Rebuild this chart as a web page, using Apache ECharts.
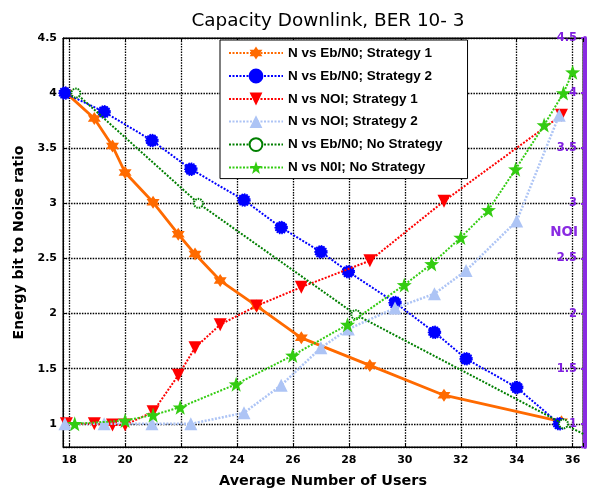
<!DOCTYPE html>
<html>
<head>
<meta charset="utf-8">
<script src="https://cdn.jsdelivr.net/npm/echarts@6/dist/echarts.min.js"></script>
<style>html,body{margin:0;padding:0;background:#fff}#c{width:590px;height:492px}</style>
</head>
<body>
<div id="c"></div>
<script>
// ---- data ----
const ebS1_x = [17.9, 18.9, 19.55, 20.0, 21.0, 21.9, 22.5, 23.4, 24.7, 26.3, 28.75, 31.4, 35.6];
const ebS1_y = [4.0, 3.77, 3.52, 3.28, 3.01, 2.72, 2.54, 2.30, 2.07, 1.78, 1.53, 1.26, 1.02];
const noiS1_y = [1.0, 1.0, 0.99, 0.99, 1.11, 1.44, 1.69, 1.90, 2.07, 2.24, 2.48, 3.02, 3.80];

const ebS2_x = [17.85, 19.25, 20.96, 22.35, 24.25, 25.58, 27.0, 27.98, 29.65, 31.06, 32.19, 34.0, 35.52];
const ebS2_y = [4.0, 3.83, 3.57, 3.31, 3.03, 2.78, 2.56, 2.38, 2.10, 1.83, 1.59, 1.33, 1.0];
const noiS2_y = [1.0, 1.0, 1.0, 1.0, 1.10, 1.35, 1.69, 1.86, 2.05, 2.18, 2.39, 2.84, 3.80];

const ebNo_x = [18.24, 22.62, 28.25, 35.67, 36.6];
const ebNo_y = [4.0, 3.0, 1.99, 1.0, 0.88];

const noiNo_x = [18.2, 20.0, 21.0, 21.97, 23.97, 25.99, 27.95, 29.98, 30.96, 32.0, 32.99, 33.96, 34.98, 35.67, 36.0];
const noiNo_y = [1.0, 1.03, 1.08, 1.15, 1.36, 1.62, 1.90, 2.26, 2.45, 2.69, 2.94, 3.31, 3.71, 4.0, 4.19];

const seriesNames = ['N vs Eb/N0; Strategy 1', 'N vs Eb/N0; Strategy 2', 'N vs NOI; Strategy 1',
                     'N vs NOI; Strategy 2', 'N vs Eb/N0; No Strategy', 'N vs N0I; No Strategy'];
const xTickLabels = ['18', '20', '22', '24', '26', '28', '30', '32', '34', '36'];
const yTickLabels = ['1', '1.5', '2', '2.5', '3', '3.5', '4', '4.5'];

function pairs(xs, ys) { return xs.map((x, i) => [x, ys[i]]); }

const HEX = 'path://M10 0 L12.89 5 L18.66 5 L15.77 10 L18.66 15 L12.89 15 L10 20 L7.11 15 L1.34 15 L4.23 10 L1.34 5 L7.11 5 Z';
const STAR = 'path://M10 0 L12.35 6.76 L19.51 6.91 L13.8 11.24 L15.88 18.09 L10 14 L4.12 18.09 L6.2 11.24 L0.49 6.91 L7.65 6.76 Z';
const FONT = 'DejaVu Sans';
const AFONT = 'Liberation Sans';
const PURPLE = '#8A2BE2';

function xFmt(v) {
  const s = String(Math.round(v));
  return (Math.abs(v - Math.round(v)) < 1e-6 && xTickLabels.indexOf(s) >= 0) ? s : '';
}
function yFmt(v) {
  const s = String(Math.round(v * 2) / 2);
  return (Math.abs(v * 2 - Math.round(v * 2)) < 1e-6 && yTickLabels.indexOf(s) >= 0) ? s : '';
}

const chart = echarts.init(document.getElementById('c'), null, {renderer: 'canvas'});
const dotted = [2, 1.5];
const ebNoData = pairs(ebNo_x, ebNo_y).map((p, i) => i === ebNo_x.length - 1 ? {value: p, symbol: 'none'} : p);

chart.setOption({
  animation: false,
  backgroundColor: '#fff',
  title: {
    text: 'Capacity Downlink, BER 10- 3',
    left: 323, top: 7, textAlign: 'center',
    textStyle: {fontFamily: FONT, fontSize: 18.4, fontWeight: 'normal', color: '#000'}
  },
  graphic: [{
    type: 'text', right: 12, top: 225, z: 100,
    style: {text: 'NOI', fill: PURPLE, font: 'bold 13.5px "DejaVu Sans"'}
  }],
  grid: {left: 63, top: 38, width: 520, height: 409, show: true, borderColor: '#000', borderWidth: 1,
         backgroundColor: 'transparent', containLabel: false, outerBoundsMode: 'none'},
  legend: {
    orient: 'vertical', left: 220, top: 40,
    padding: [6, 25, 4, 8],
    itemWidth: 54, itemHeight: 16, itemGap: 8.6,
    backgroundColor: '#fff', borderColor: '#000', borderWidth: 1,
    textStyle: {fontFamily: AFONT, fontSize: 13.5, fontWeight: 'bold', color: '#000'},
    data: seriesNames.map((n, i) => i === 0 ? {name: n, lineStyle: {type: dotted, width: 2}} : {name: n})
  },
  xAxis: [{
    type: 'value', min: 17.78, max: 36.37, splitNumber: 9,
    name: 'Average Number of Users', nameLocation: 'middle', nameGap: 27,
    nameTextStyle: {fontFamily: FONT, fontSize: 14.4, fontWeight: 'bold', color: '#000'},
    axisLine: {lineStyle: {color: '#000', width: 1}},
    axisTick: {inside: true, length: 4, lineStyle: {color: '#000'}},
    axisLabel: {formatter: xFmt, fontFamily: FONT, fontSize: 11, fontWeight: 'bold', color: '#000', margin: 8},
    splitLine: {show: true, lineStyle: {color: '#000', type: [1.5, 1.2], width: 1.3}}
  }, {
    type: 'value', position: 'top', min: 17.78, max: 36.37, splitNumber: 9,
    axisLine: {show: true, lineStyle: {color: '#000'}},
    axisTick: {inside: true, length: 4, lineStyle: {color: '#000'}},
    axisLabel: {show: false}, splitLine: {show: false}
  }],
  yAxis: [{
    type: 'value', min: 0.79, max: 4.5, splitNumber: 7,
    name: 'Energy bit to Noise ratio', nameLocation: 'middle', nameGap: 36,
    nameTextStyle: {fontFamily: FONT, fontSize: 14, fontWeight: 'bold', color: '#000'},
    axisLine: {show: true, lineStyle: {color: '#000', width: 1}},
    axisTick: {inside: true, length: 4, lineStyle: {color: '#000'}},
    axisLabel: {formatter: yFmt, fontFamily: FONT, fontSize: 11, fontWeight: 'bold', color: '#000', margin: 6},
    splitLine: {show: true, lineStyle: {color: '#000', type: [1.5, 1.2], width: 1.3}}
  }, {
    type: 'value', position: 'right', min: 0.79, max: 4.5, splitNumber: 7, offset: 2,
    axisLine: {show: true, lineStyle: {color: PURPLE, width: 4}},
    axisTick: {show: true, inside: true, length: 4, lineStyle: {color: PURPLE, width: 2}},
    axisLabel: {inside: true, formatter: yFmt, fontFamily: FONT, fontSize: 11.5, fontWeight: 'bold', color: '#8020E0', margin: 8},
    splitLine: {show: false}
  }],
  series: [
    {name: seriesNames[0], type: 'line', data: pairs(ebS1_x, ebS1_y), symbol: HEX, symbolSize: 13,
     itemStyle: {color: '#FF6A00'}, lineStyle: {color: '#FF6A00', width: 2.8, type: 'solid'}, z: 2},
    {name: seriesNames[1], type: 'line', data: pairs(ebS2_x, ebS2_y), symbol: 'circle', symbolSize: 12,
     itemStyle: {color: '#0000FF', borderColor: '#0000FF', borderWidth: 1.5, borderType: [1.5, 1]}, lineStyle: {color: '#0000FF', width: 2, type: dotted}, z: 3},
    {name: seriesNames[2], type: 'line', yAxisIndex: 1, data: pairs(ebS1_x, noiS1_y), symbol: 'triangle', symbolRotate: 180, symbolSize: 13,
     itemStyle: {color: '#FF0000'}, lineStyle: {color: '#FF0000', width: 2, type: dotted}, z: 4},
    {name: seriesNames[3], type: 'line', yAxisIndex: 1, data: pairs(ebS2_x, noiS2_y), symbol: 'triangle', symbolSize: 13,
     itemStyle: {color: '#ADC4F5'}, lineStyle: {color: '#ADC4F5', width: 2.5, type: dotted}, z: 5},
    {name: seriesNames[4], type: 'line', data: ebNoData, symbol: 'emptyCircle', symbolSize: 9,
     itemStyle: {color: '#007F00', borderColor: '#007F00', borderWidth: 2, borderType: [1.5, 1]}, lineStyle: {color: '#007F00', width: 2, type: dotted}, z: 6},
    {name: seriesNames[5], type: 'line', yAxisIndex: 1, data: pairs(noiNo_x, noiNo_y), symbol: STAR, symbolSize: 15,
     itemStyle: {color: '#33CC11'}, lineStyle: {color: '#33CC11', width: 2, type: dotted}, z: 7}
  ]
});
</script>
</body>
</html>
